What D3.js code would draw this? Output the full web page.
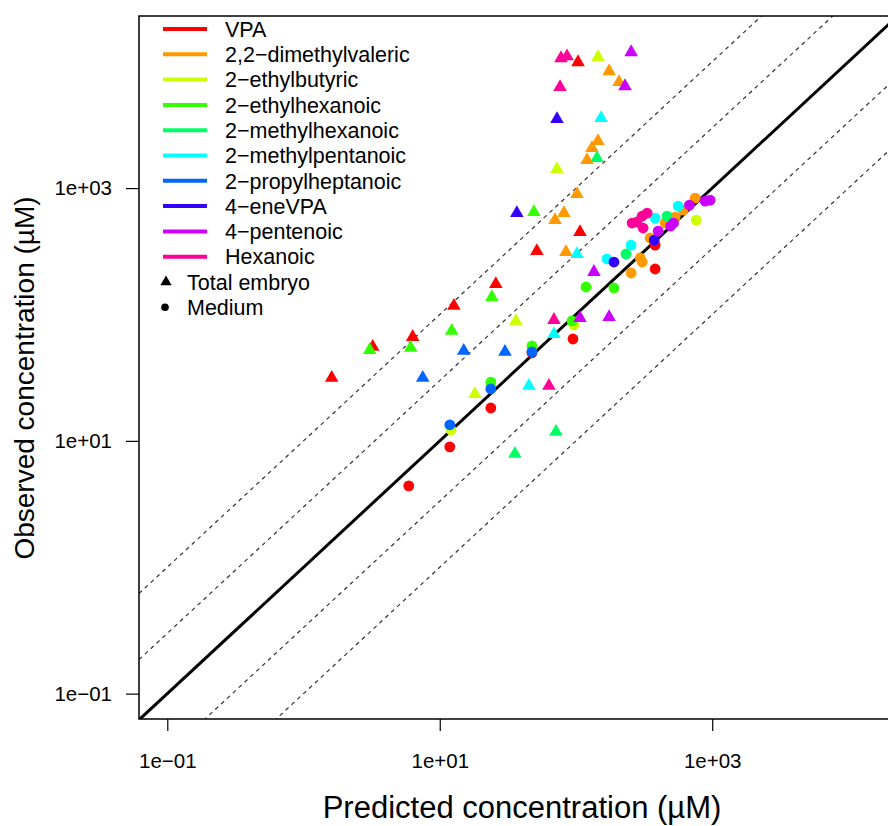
<!DOCTYPE html>
<html>
<head>
<meta charset="utf-8">
<script src="https://cdn.jsdelivr.net/npm/d3@7"></script>
<style>
  body { margin: 0; background: #fff; }
  text { font-family: "Liberation Sans", Arial, Helvetica, sans-serif; fill: #000; }
</style>
</head>
<body>
<svg id="chart" width="888" height="826"></svg>
<script>
// Compounds and their colours
const compounds = ["VPA", "2,2\u2212dimethylvaleric", "2\u2212ethylbutyric", "2\u2212ethylhexanoic",
  "2\u2212methylhexanoic", "2\u2212methylpentanoic", "2\u2212propylheptanoic", "4\u2212eneVPA",
  "4\u2212pentenoic", "Hexanoic"];
const compoundColors = ["#FF0000", "#FF9900", "#CCFF00", "#33FF00", "#00FF66",
  "#00FFFF", "#0066FF", "#3300FF", "#CC00FF", "#FF0099"];

// Total embryo concentrations (µM): compound index, predicted, observed
const embryoCompound = [
  0, 0, 0, 0, 0, 0, 0, 0,
  1, 1, 1, 1, 1, 1, 1, 1, 1,
  2, 2, 2, 2,
  3, 3, 3, 3, 3,
  4, 4, 4,
  5, 5, 5, 5,
  6, 6, 6,
  7, 7,
  8, 8, 8, 8, 8,
  9, 9, 9, 9, 9];
const embryoPredicted = [
  103.5, 51.6, 107, 25.8, 12.7, 6.33, 3.22, 1.61,
  175, 207, 145, 131, 120.5, 101.7, 81.6, 70.1, 84.4,
  145, 72.5, 36.2, 18.1,
  49.1, 24.1, 12.25, 6.12, 3.06,
  142.6, 71.3, 35.6,
  152.7, 101.7, 68.9, 45.1,
  7.5, 15.0, 30.1,
  72.5, 36.8,
  254, 229, 135.5, 107, 175,
  77.6, 85.9, 76.3, 68.9, 63.3];
const embryoObserved = [
  9910, 318, 449, 174, 117, 66.4, 55.4, 31.5,
  8410, 6890, 2353, 2071, 1665, 897, 634, 558, 312,
  10860, 1413, 88.8, 23.5,
  646, 137, 74.1, 54.4, 52.4,
  1727, 11.8, 7.89,
  3575, 301, 70.1, 27.2,
  31.5, 51.5, 50.6,
  3510, 634,
  11890, 6400, 217, 93.8, 95.5,
  10660, 11050, 6290, 90.5, 27.2];

// Medium concentrations (µM): compound index, predicted, observed
const mediumCompound = [
  0, 0, 0, 0, 0, 0, 0,
  1, 1, 1, 1, 1, 1, 1, 1,
  2, 2, 2, 2,
  3, 3, 3, 3, 3,
  4, 4,
  5, 5, 5, 5,
  6, 6, 6,
  7, 7,
  8, 8, 8, 8, 8, 8,
  9, 9, 9, 9, 9];
const mediumPredicted = [
  381, 381, 95, 23.7, 11.85, 5.92, 47.5,
  254, 296, 306, 350, 451, 535, 612, 750,
  763, 96.6, 12.1, 23.7,
  118.5, 190, 93.5, 47.5, 23.7,
  233, 466,
  169, 254, 381, 562,
  47.5, 23.7, 11.85,
  190, 375,
  401, 495, 520, 680, 888, 966,
  258, 281, 306, 333, 311];
const mediumObserved = [
  229, 354, 64, 18.2, 8.97, 4.41, 49.7,
  213, 280, 260, 403, 529, 590, 670, 833,
  558, 82.6, 12.2, 28.2,
  165, 162, 88.8, 56.4, 29.2,
  301, 601,
  275, 354, 579, 721,
  50.6, 25.8, 13.4,
  260, 388,
  457, 501, 529, 734, 789, 804,
  529, 539, 601, 634, 483];

// Axis ticks and reference lines
const tickValues = [0.1, 10, 1000];
const tickLabels = ["1e\u221201", "1e+01", "1e+03"];
const unityLine = 1;
const foldLines = [1 / 10, 1 / 3, 3, 10];
const sampleTypes = ["Total embryo", "Medium"];

// Layout
const plot = { left: 139, right: 905, top: 16, bottom: 719 };
const xLim = [0.062, 26000];
const yLim = [0.063, 23000];

const svg = d3.select("#chart");
const x = d3.scaleLog().domain(xLim).range([plot.left, plot.right]);
const y = d3.scaleLog().domain(yLim).range([plot.bottom, plot.top]);

svg.append("defs").append("clipPath").attr("id", "plot-clip")
  .append("rect")
  .attr("x", plot.left).attr("y", plot.top)
  .attr("width", plot.right - plot.left).attr("height", plot.bottom - plot.top);

const inner = svg.append("g").attr("clip-path", "url(#plot-clip)");

// Observed = k × predicted lines
function ratioLine(k) {
  return [[xLim[0], xLim[0] * k], [xLim[1], xLim[1] * k]];
}
const lineGen = d3.line().x(d => x(d[0])).y(d => y(d[1]));

inner.selectAll("path.fold").data(foldLines).join("path")
  .attr("class", "fold")
  .attr("d", k => lineGen(ratioLine(k)))
  .attr("fill", "none")
  .attr("stroke", "#333")
  .attr("stroke-width", 1.2)
  .attr("stroke-dasharray", "4,4");

inner.append("path")
  .attr("d", lineGen(ratioLine(unityLine)))
  .attr("fill", "none")
  .attr("stroke", "#000")
  .attr("stroke-width", 3);

// Points, compound by compound: embryo triangles then medium circles
const triangle = d3.symbol().type(d3.symbolTriangle).size(80);
compounds.forEach((name, ci) => {
  const emb = embryoCompound.map((c, i) => ({ c, p: embryoPredicted[i], o: embryoObserved[i] }))
    .filter(d => d.c === ci);
  const med = mediumCompound.map((c, i) => ({ c, p: mediumPredicted[i], o: mediumObserved[i] }))
    .filter(d => d.c === ci);
  inner.append("g").selectAll("path").data(emb).join("path")
    .attr("d", triangle)
    .attr("transform", d => `translate(${x(d.p)},${y(d.o)})`)
    .attr("fill", compoundColors[ci]);
  inner.append("g").selectAll("circle").data(med).join("circle")
    .attr("cx", d => x(d.p))
    .attr("cy", d => y(d.o))
    .attr("r", 5.4)
    .attr("fill", compoundColors[ci]);
});

// Plot frame
svg.append("rect")
  .attr("x", plot.left).attr("y", plot.top)
  .attr("width", plot.right - plot.left).attr("height", plot.bottom - plot.top)
  .attr("fill", "none").attr("stroke", "#000").attr("stroke-width", 1.5);

// Axes
const xAxis = svg.append("g").attr("transform", `translate(0,${plot.bottom})`)
  .call(d3.axisBottom(x).tickValues(tickValues).tickFormat((d, i) => tickLabels[i])
    .tickSize(12).tickSizeOuter(0).tickPadding(22));
const yAxis = svg.append("g").attr("transform", `translate(${plot.left},0)`)
  .call(d3.axisLeft(y).tickValues(tickValues).tickFormat((d, i) => tickLabels[i])
    .tickSize(13).tickSizeOuter(0).tickPadding(14));
[xAxis, yAxis].forEach(g => {
  g.select(".domain").remove();
  g.selectAll(".tick line").attr("stroke", "#000").attr("stroke-width", 1.2);
  g.selectAll(".tick text").attr("font-size", 20.5).attr("font-family", null).attr("fill", "#000");
});

svg.append("text")
  .attr("x", (plot.left + plot.right) / 2).attr("y", 818)
  .attr("text-anchor", "middle").attr("font-size", 31)
  .text("Predicted concentration (\u00B5M)");
svg.append("text")
  .attr("transform", `translate(34,378) rotate(-90)`)
  .attr("text-anchor", "middle").attr("font-size", 28)
  .text("Observed concentration (\u00B5M)");

// Legend: compound colours
const legend = svg.append("g");
const rowH = 25.3;
compounds.forEach((name, i) => {
  const ly = 29 + i * rowH;
  legend.append("line")
    .attr("x1", 163).attr("x2", 207).attr("y1", ly).attr("y2", ly)
    .attr("stroke", compoundColors[i]).attr("stroke-width", 4);
  legend.append("text")
    .attr("x", 225).attr("y", ly).attr("dy", "0.36em")
    .attr("font-size", 21.5).text(name);
});
// Legend: sample types
const typeTop = 29 + compounds.length * rowH;
legend.append("path")
  .attr("d", d3.symbol().type(d3.symbolTriangle).size(55)())
  .attr("transform", `translate(166,${typeTop})`).attr("fill", "#000");
legend.append("circle")
  .attr("cx", 165).attr("cy", typeTop + rowH).attr("r", 3.8).attr("fill", "#000");
sampleTypes.forEach((t, i) => {
  legend.append("text")
    .attr("x", 187).attr("y", typeTop + i * rowH).attr("dy", "0.36em")
    .attr("font-size", 21.5).text(t);
});
</script>
</body>
</html>
